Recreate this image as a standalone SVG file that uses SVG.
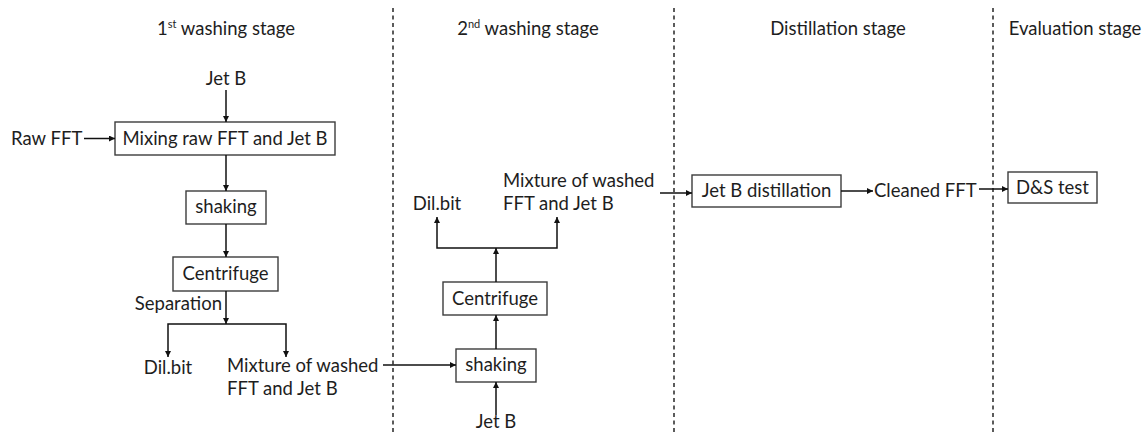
<svg xmlns="http://www.w3.org/2000/svg" width="1146" height="433" viewBox="0 0 1146 433">
<style>
text{font-family:Lato,"Liberation Sans",Arial,sans-serif;font-size:18.5px;fill:#1e1e1e}
.t{text-anchor:middle}
.box{fill:#fff;stroke:#3c3c3c;stroke-width:1.4}
.ar{fill:none;stroke:#111;stroke-width:1.5;marker-end:url(#ah)}
.dash{stroke:#333;stroke-width:1.6;stroke-dasharray:4 3.5}
</style>
<defs>
<marker id="ah" viewBox="0 0 8 8" refX="8" refY="4" markerWidth="7" markerHeight="6" markerUnits="userSpaceOnUse" orient="auto">
<path d="M0,0 L8,4 L0,8 z" fill="#111"/>
</marker>
</defs>
<g id="dividers">
<line class="dash" x1="393" y1="8" x2="393" y2="433"/>
<line class="dash" x1="674" y1="8" x2="674" y2="433"/>
<line class="dash" x1="993" y1="8" x2="993" y2="433"/>
</g>
<g id="titles">
<text class="t" x="226" y="35">1<tspan font-size="11" dy="-7">st</tspan><tspan dy="7"> washing stage</tspan></text>
<text class="t" x="528" y="35">2<tspan font-size="11" dy="-7">nd</tspan><tspan dy="7"> washing stage</tspan></text>
<text class="t" x="838" y="35">Distillation stage</text>
<text class="t" x="1075" y="35">Evaluation stage</text>
</g>
<g id="jetb1"><text class="t" x="226" y="85">Jet B</text></g>
<g id="rawfft"><text x="11" y="145">Raw FFT</text></g>
<g id="mixing"><rect class="box" x="115" y="122" width="220" height="33"/><text class="t" x="225" y="145">Mixing raw FFT and Jet B</text></g>
<g id="shaking1"><rect class="box" x="186" y="191" width="80" height="33"/><text class="t" x="226" y="213">shaking</text></g>
<g id="centrifuge1"><rect class="box" x="173" y="257" width="105" height="34"/><text class="t" x="225.5" y="280">Centrifuge</text></g>
<g id="separation"><text x="222" y="310" text-anchor="end">Separation</text></g>
<g id="dilbit1"><text class="t" x="168" y="374">Dil.bit</text></g>
<g id="mixture1"><text x="227" y="372">Mixture of washed</text><text x="227" y="395">FFT and Jet B</text></g>
<g id="shaking2"><rect class="box" x="456" y="349" width="80" height="33"/><text class="t" x="496" y="371">shaking</text></g>
<g id="jetb2"><text class="t" x="496" y="428">Jet B</text></g>
<g id="centrifuge2"><rect class="box" x="443" y="282" width="104" height="33"/><text class="t" x="495" y="305">Centrifuge</text></g>
<g id="dilbit2"><text class="t" x="437" y="210">Dil.bit</text></g>
<g id="mixture2"><text x="503" y="187">Mixture of washed</text><text x="503" y="210">FFT and Jet B</text></g>
<g id="distillation"><rect class="box" x="692" y="175" width="149" height="32"/><text class="t" x="766.5" y="197">Jet B distillation</text></g>
<g id="cleaned"><text x="874" y="197">Cleaned FFT</text></g>
<g id="dstest"><rect class="box" x="1008" y="172" width="89" height="31"/><text class="t" x="1052.5" y="194">D&amp;S test</text></g>
<g id="connectors">
<line class="ar" x1="226" y1="90" x2="226" y2="122"/>
<line class="ar" x1="84" y1="138.5" x2="115" y2="138.5"/>
<line class="ar" x1="226" y1="155" x2="226" y2="191"/>
<line class="ar" x1="226" y1="224" x2="226" y2="257"/>
<line class="ar" x1="226" y1="291" x2="226" y2="324"/>
<polyline class="ar" points="226,324 168,324 168,357"/>
<polyline class="ar" points="226,324 286,324 286,357"/>
<line class="ar" x1="383" y1="365" x2="456" y2="365"/>
<line class="ar" x1="496" y1="415" x2="496" y2="382"/>
<line class="ar" x1="496" y1="349" x2="496" y2="315"/>
<line class="ar" x1="496" y1="282" x2="496" y2="248"/>
<polyline class="ar" points="496,248 437,248 437,217"/>
<polyline class="ar" points="496,248 557,248 557,217"/>
<line class="ar" x1="660" y1="193" x2="692" y2="193"/>
<line class="ar" x1="841" y1="191" x2="873" y2="191"/>
<line class="ar" x1="979" y1="189" x2="1008" y2="189"/>
</g>
</svg>
